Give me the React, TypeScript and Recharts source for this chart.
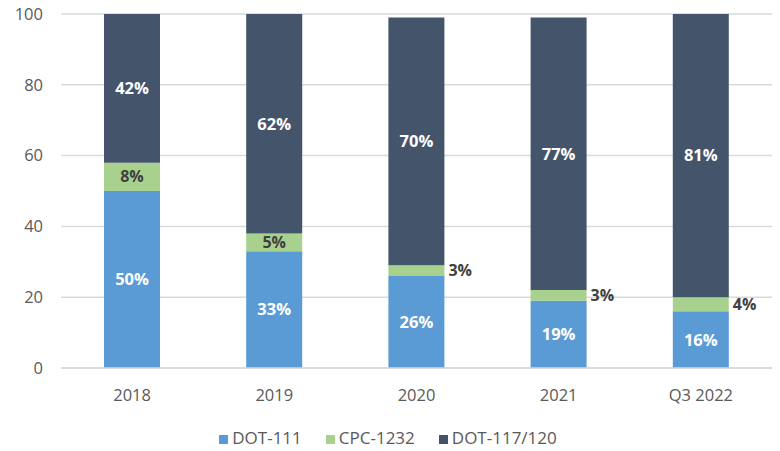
import { BarChart, Bar, XAxis, YAxis, CartesianGrid, Legend, LabelList } from "recharts";

const years = ["2018", "2019", "2020", "2021", "Q3 2022"];
const dot111 = [50, 33, 26, 19, 16];
const cpc1232 = [8, 5, 3, 3, 4];
const dot117 = [42, 62, 70, 77, 81];
const yTicks = [0, 20, 40, 60, 80, 100];
const seriesNames = ["DOT-111", "CPC-1232", "DOT-117/120"];

const data = years.map((year, i) => ({
  year,
  dot111: dot111[i],
  cpc1232: cpc1232[i],
  dot117: dot117[i],
}));

const FONT = "'Open Sans', 'Liberation Sans', sans-serif";
const GREY = "#595959";

interface LabelProps {
  x?: number | string;
  y?: number | string;
  width?: number | string;
  height?: number | string;
  value?: number | string;
}

// CPC-1232 segments are thin; small ones get their label beside the bar
const CpcLabel = (props: LabelProps) => {
  const x = Number(props.x);
  const y = Number(props.y);
  const w = Number(props.width);
  const h = Number(props.height);
  const v = Number(props.value);
  const inside = v >= 5;
  return (
    <text
      x={inside ? x + w / 2 : x + w + 4}
      y={y + h / 2}
      dy="0.35em"
      textAnchor={inside ? "middle" : "start"}
      fill="#404040"
      fontSize={16}
      fontWeight={700}
      fontFamily={FONT}
    >
      {`${v}%`}
    </text>
  );
};

export default function App() {
  return (
    <div style={{ position: "fixed", left: 0, top: 0, width: 780, height: 451, background: "#fff" }}>
      <BarChart
        width={780}
        height={451}
        data={data}
        margin={{ top: 14, right: 8, bottom: 2, left: 0 }}
        barSize={56}
      >
        <CartesianGrid vertical={false} stroke="#d9d9d9" strokeWidth={1.5} />
        <XAxis
          dataKey="year"
          axisLine={{ stroke: "#d9d9d9", strokeWidth: 1.5 }}
          tickLine={false}
          tickMargin={15}
          height={58}
          tick={{ fill: GREY, fontSize: 16.5, fontFamily: FONT }}
        />
        <YAxis
          domain={[0, 100]}
          ticks={yTicks}
          allowDataOverflow
          axisLine={false}
          tickLine={false}
          width={61}
          tickMargin={12}
          tick={{ fill: GREY, fontSize: 16.5, fontFamily: FONT }}
        />
        <Legend
          iconType="square"
          iconSize={9}
          itemSorter={(item) => seriesNames.indexOf(String(item.value))}
          wrapperStyle={{ fontFamily: FONT, fontSize: 17, paddingLeft: 14 }}
          formatter={(value) => (
            <span style={{ color: GREY, marginRight: 14 }}>{value}</span>
          )}
        />
        <Bar dataKey="dot111" name="DOT-111" stackId="a" fill="#5B9BD5" isAnimationActive={false}>
          <LabelList
            dataKey="dot111"
            position="center"
            formatter={(v: number) => `${v}%`}
            fill="#fff"
            fontSize={16.5}
            fontWeight={700}
            fontFamily={FONT}
          />
        </Bar>
        <Bar dataKey="cpc1232" name="CPC-1232" stackId="a" fill="#A9D18E" isAnimationActive={false}>
          <LabelList dataKey="cpc1232" content={<CpcLabel />} />
        </Bar>
        <Bar dataKey="dot117" name="DOT-117/120" stackId="a" fill="#44546A" isAnimationActive={false}>
          <LabelList
            dataKey="dot117"
            position="center"
            formatter={(v: number) => `${v}%`}
            fill="#fff"
            fontSize={16.5}
            fontWeight={700}
            fontFamily={FONT}
          />
        </Bar>
      </BarChart>
    </div>
  );
}
